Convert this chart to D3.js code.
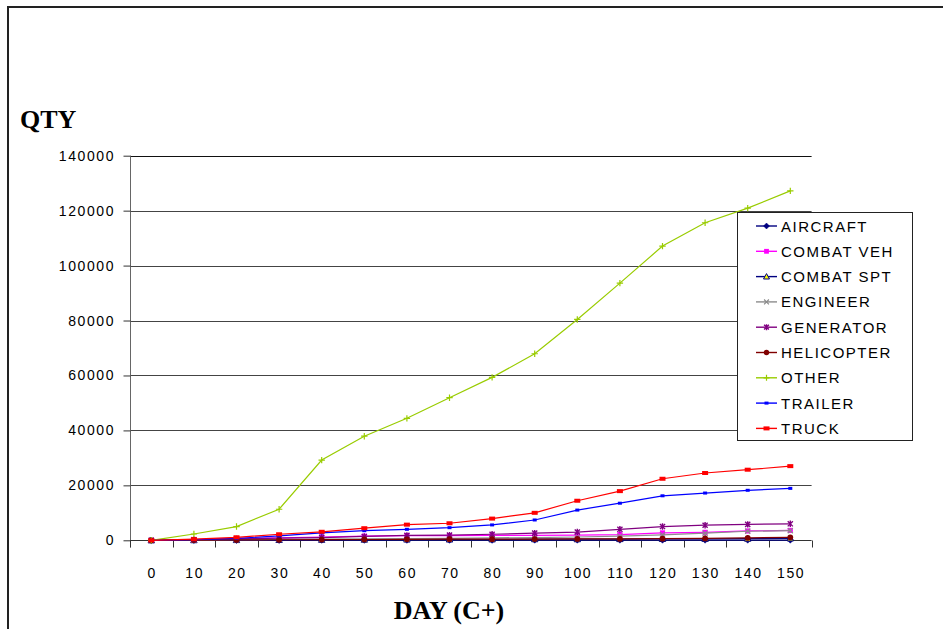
<!DOCTYPE html>
<html>
<head>
<meta charset="utf-8">
<script src="https://cdn.jsdelivr.net/npm/d3@7"></script>
<style>
  html, body { margin: 0; padding: 0; background: #fff; }
  svg { display: block; }
  .tick-label { font-family: "Liberation Sans", Arial, sans-serif; font-size: 14px; letter-spacing: 1.6px; fill: #000; }
  .legend-label { font-family: "Liberation Sans", Arial, sans-serif; font-size: 15px; letter-spacing: 1.5px; fill: #000; }
  .axis-title { font-family: "Liberation Serif", "Times New Roman", serif; font-size: 26px; font-weight: bold; fill: #000; }
</style>
</head>
<body>
<svg id="chart" width="943" height="629"></svg>
<script>
// Days after C-day
const days = [0, 10, 20, 30, 40, 50, 60, 70, 80, 90, 100, 110, 120, 130, 140, 150];
const yTicks = [0, 20000, 40000, 60000, 80000, 100000, 120000, 140000];

// Cumulative quantities per equipment class
const aircraft   = [0, 0, 0, 0, 50, 50, 50, 50, 50, 100, 100, 100, 100, 100, 100, 100];
const combatVeh  = [0, 300, 600, 900, 1200, 1500, 1700, 1700, 1800, 1800, 1900, 2100, 2700, 2900, 3400, 3600];
const combatSpt  = [0, 50, 100, 150, 200, 250, 300, 300, 350, 400, 400, 450, 500, 550, 600, 700];
const engineer   = [0, 100, 200, 300, 400, 500, 600, 700, 900, 1000, 1200, 1500, 2000, 2600, 3300, 3500];
const generator  = [0, 200, 500, 800, 1000, 1400, 1800, 1900, 2200, 2600, 3000, 4000, 5000, 5500, 5800, 6000];
const helicopter = [0, 100, 150, 200, 250, 300, 350, 400, 400, 450, 500, 500, 600, 700, 900, 1100];
const other      = [0, 2300, 5000, 11300, 29200, 37900, 44400, 51900, 59300, 67900, 80400, 93600, 107100, 115600, 120900, 127200];
const trailer    = [0, 200, 700, 1600, 2700, 3500, 4000, 4600, 5600, 7400, 11000, 13500, 16200, 17200, 18200, 18900];
const truck      = [0, 400, 1100, 2200, 3100, 4400, 5700, 6200, 7900, 10000, 14400, 17900, 22400, 24500, 25700, 27000];

const seriesNames = ["AIRCRAFT", "COMBAT VEH", "COMBAT SPT", "ENGINEER", "GENERATOR", "HELICOPTER", "OTHER", "TRAILER", "TRUCK"];
const seriesValues = [aircraft, combatVeh, combatSpt, engineer, generator, helicopter, other, trailer, truck];
const seriesColors = ["#000080", "#ff00ff", "#000080", "#8c8c8c", "#800080", "#800000", "#99cc00", "#0000ff", "#ff0000"];
const seriesMarkers = ["diamond", "square", "triangle", "cross", "star", "circle", "plus", "dash", "bar"];

const svg = d3.select("#chart");

// Outer frame (top and left edges)
svg.append("line").attr("x1", 8).attr("y1", 7).attr("x2", 943).attr("y2", 7)
  .attr("stroke", "#222").attr("stroke-width", 2);
svg.append("line").attr("x1", 8).attr("y1", 6).attr("x2", 8).attr("y2", 629)
  .attr("stroke", "#222").attr("stroke-width", 2);

const x = d3.scaleBand().domain(days).range([130, 811.6]).padding(0);
const y = d3.scaleLinear().domain([0, 140000]).range([540.3, 155.7]);
const cx = d => x(d) + x.bandwidth() / 2;

// Horizontal gridlines
svg.append("g").selectAll("line").data(yTicks.filter(t => t > 0)).join("line")
  .attr("x1", 130).attr("x2", 811.6)
  .attr("y1", d => Math.round(y(d)) + 0.5).attr("y2", d => Math.round(y(d)) + 0.5)
  .attr("stroke", d => d === 140000 ? "#111" : "#444").attr("stroke-width", 1);

// Y axis
const yAxis = svg.append("g").attr("transform", "translate(130.5,0)")
  .call(d3.axisLeft(y).tickValues(yTicks).tickSize(7).tickPadding(10).tickFormat(d3.format("d")));
yAxis.select(".domain").attr("stroke", "#666").attr("d", "M0," + y(140000) + "V" + (y(0) + 7));
yAxis.selectAll(".tick line").attr("stroke", "#333");
yAxis.selectAll(".tick text").attr("class", "tick-label").attr("dx", 1.6)
  .attr("font-family", null).attr("font-size", null);
yAxis.attr("font-family", null).attr("font-size", null);

// X axis: labels centred in each day band, ticks on band edges
const baseY = Math.round(y(0)) + 0.5;
svg.append("line").attr("x1", 130).attr("x2", 811.6).attr("y1", baseY).attr("y2", baseY)
  .attr("stroke", "#333");
const edges = days.map(d => x(d)).concat([x.range()[1]]);
svg.append("g").selectAll("line").data(edges).join("line")
  .attr("x1", d => Math.round(d) + 0.5).attr("x2", d => Math.round(d) + 0.5)
  .attr("y1", baseY).attr("y2", baseY + 7).attr("stroke", "#333");
svg.append("g").selectAll("text").data(days).join("text")
  .attr("class", "tick-label")
  .attr("x", d => cx(d) + 0.8).attr("y", 578)
  .attr("text-anchor", "middle").text(d => d);

// Marker shapes
function drawMarker(g, type, color, size) {
  const s = size;
  switch (type) {
    case "diamond":
      g.append("path").attr("d", `M0,${-s}L${s},0L0,${s}L${-s},0Z`).attr("fill", color).attr("stroke", color).attr("stroke-width", 0.5);
      break;
    case "square":
      g.append("rect").attr("x", -s * 0.8).attr("y", -s * 0.8).attr("width", s * 1.6).attr("height", s * 1.6).attr("fill", color);
      break;
    case "triangle":
      g.append("path").attr("d", `M0,${-s}L${s},${s * 0.8}L${-s},${s * 0.8}Z`).attr("fill", "#ffff00").attr("stroke", color).attr("stroke-width", 1);
      break;
    case "cross":
      g.append("path").attr("d", `M${-s * 0.8},${-s * 0.8}L${s * 0.8},${s * 0.8}M${-s * 0.8},${s * 0.8}L${s * 0.8},${-s * 0.8}`).attr("stroke", color).attr("stroke-width", 1.2);
      break;
    case "star":
      g.append("path").attr("d", `M${-s * 0.8},${-s * 0.8}L${s * 0.8},${s * 0.8}M${-s * 0.8},${s * 0.8}L${s * 0.8},${-s * 0.8}M0,${-s}L0,${s}`).attr("stroke", color).attr("stroke-width", 1.4);
      break;
    case "circle":
      g.append("circle").attr("r", s * 0.9).attr("fill", color);
      break;
    case "plus":
      g.append("path").attr("d", `M${-s},0L${s},0M0,${-s}L0,${s}`).attr("stroke", color).attr("stroke-width", 1.2);
      break;
    case "dash":
      g.append("rect").attr("x", -2).attr("y", -1.5).attr("width", 4).attr("height", 3).attr("fill", color);
      break;
    case "bar":
      g.append("rect").attr("x", -3).attr("y", -2).attr("width", 6).attr("height", 4).attr("fill", color);
      break;
  }
}

// Series lines and markers
const line = d3.line().x((v, i) => cx(days[i])).y(v => y(v));
const plot = svg.append("g");
seriesValues.forEach((vals, k) => {
  const g = plot.append("g");
  g.append("path").datum(vals).attr("d", line)
    .attr("fill", "none").attr("stroke", seriesColors[k]).attr("stroke-width", 1.2);
  vals.forEach((v, i) => {
    const m = g.append("g").attr("transform", `translate(${cx(days[i])},${y(v)})`);
    drawMarker(m, seriesMarkers[k], seriesColors[k], 3.2);
  });
});

// Legend
const legend = svg.append("g");
legend.append("rect").attr("x", 737.5).attr("y", 212.5).attr("width", 175).attr("height", 228)
  .attr("fill", "#fff").attr("stroke", "#222").attr("stroke-width", 1);
seriesNames.forEach((name, k) => {
  const ry = 226 + k * 25.3;
  const row = legend.append("g");
  row.append("line").attr("x1", 756).attr("x2", 777).attr("y1", ry).attr("y2", ry)
    .attr("stroke", seriesColors[k]).attr("stroke-width", 1.4);
  const m = row.append("g").attr("transform", `translate(766.5,${ry})`);
  drawMarker(m, seriesMarkers[k], seriesColors[k], 3);
  row.append("text").attr("class", "legend-label").attr("x", 781).attr("y", ry + 5.5).text(name);
});

// Axis titles
svg.append("text").attr("class", "axis-title").attr("x", 20).attr("y", 128).text("QTY");
svg.append("text").attr("class", "axis-title").attr("x", 449).attr("y", 619).attr("text-anchor", "middle").text("DAY (C+)");
</script>
</body>
</html>
